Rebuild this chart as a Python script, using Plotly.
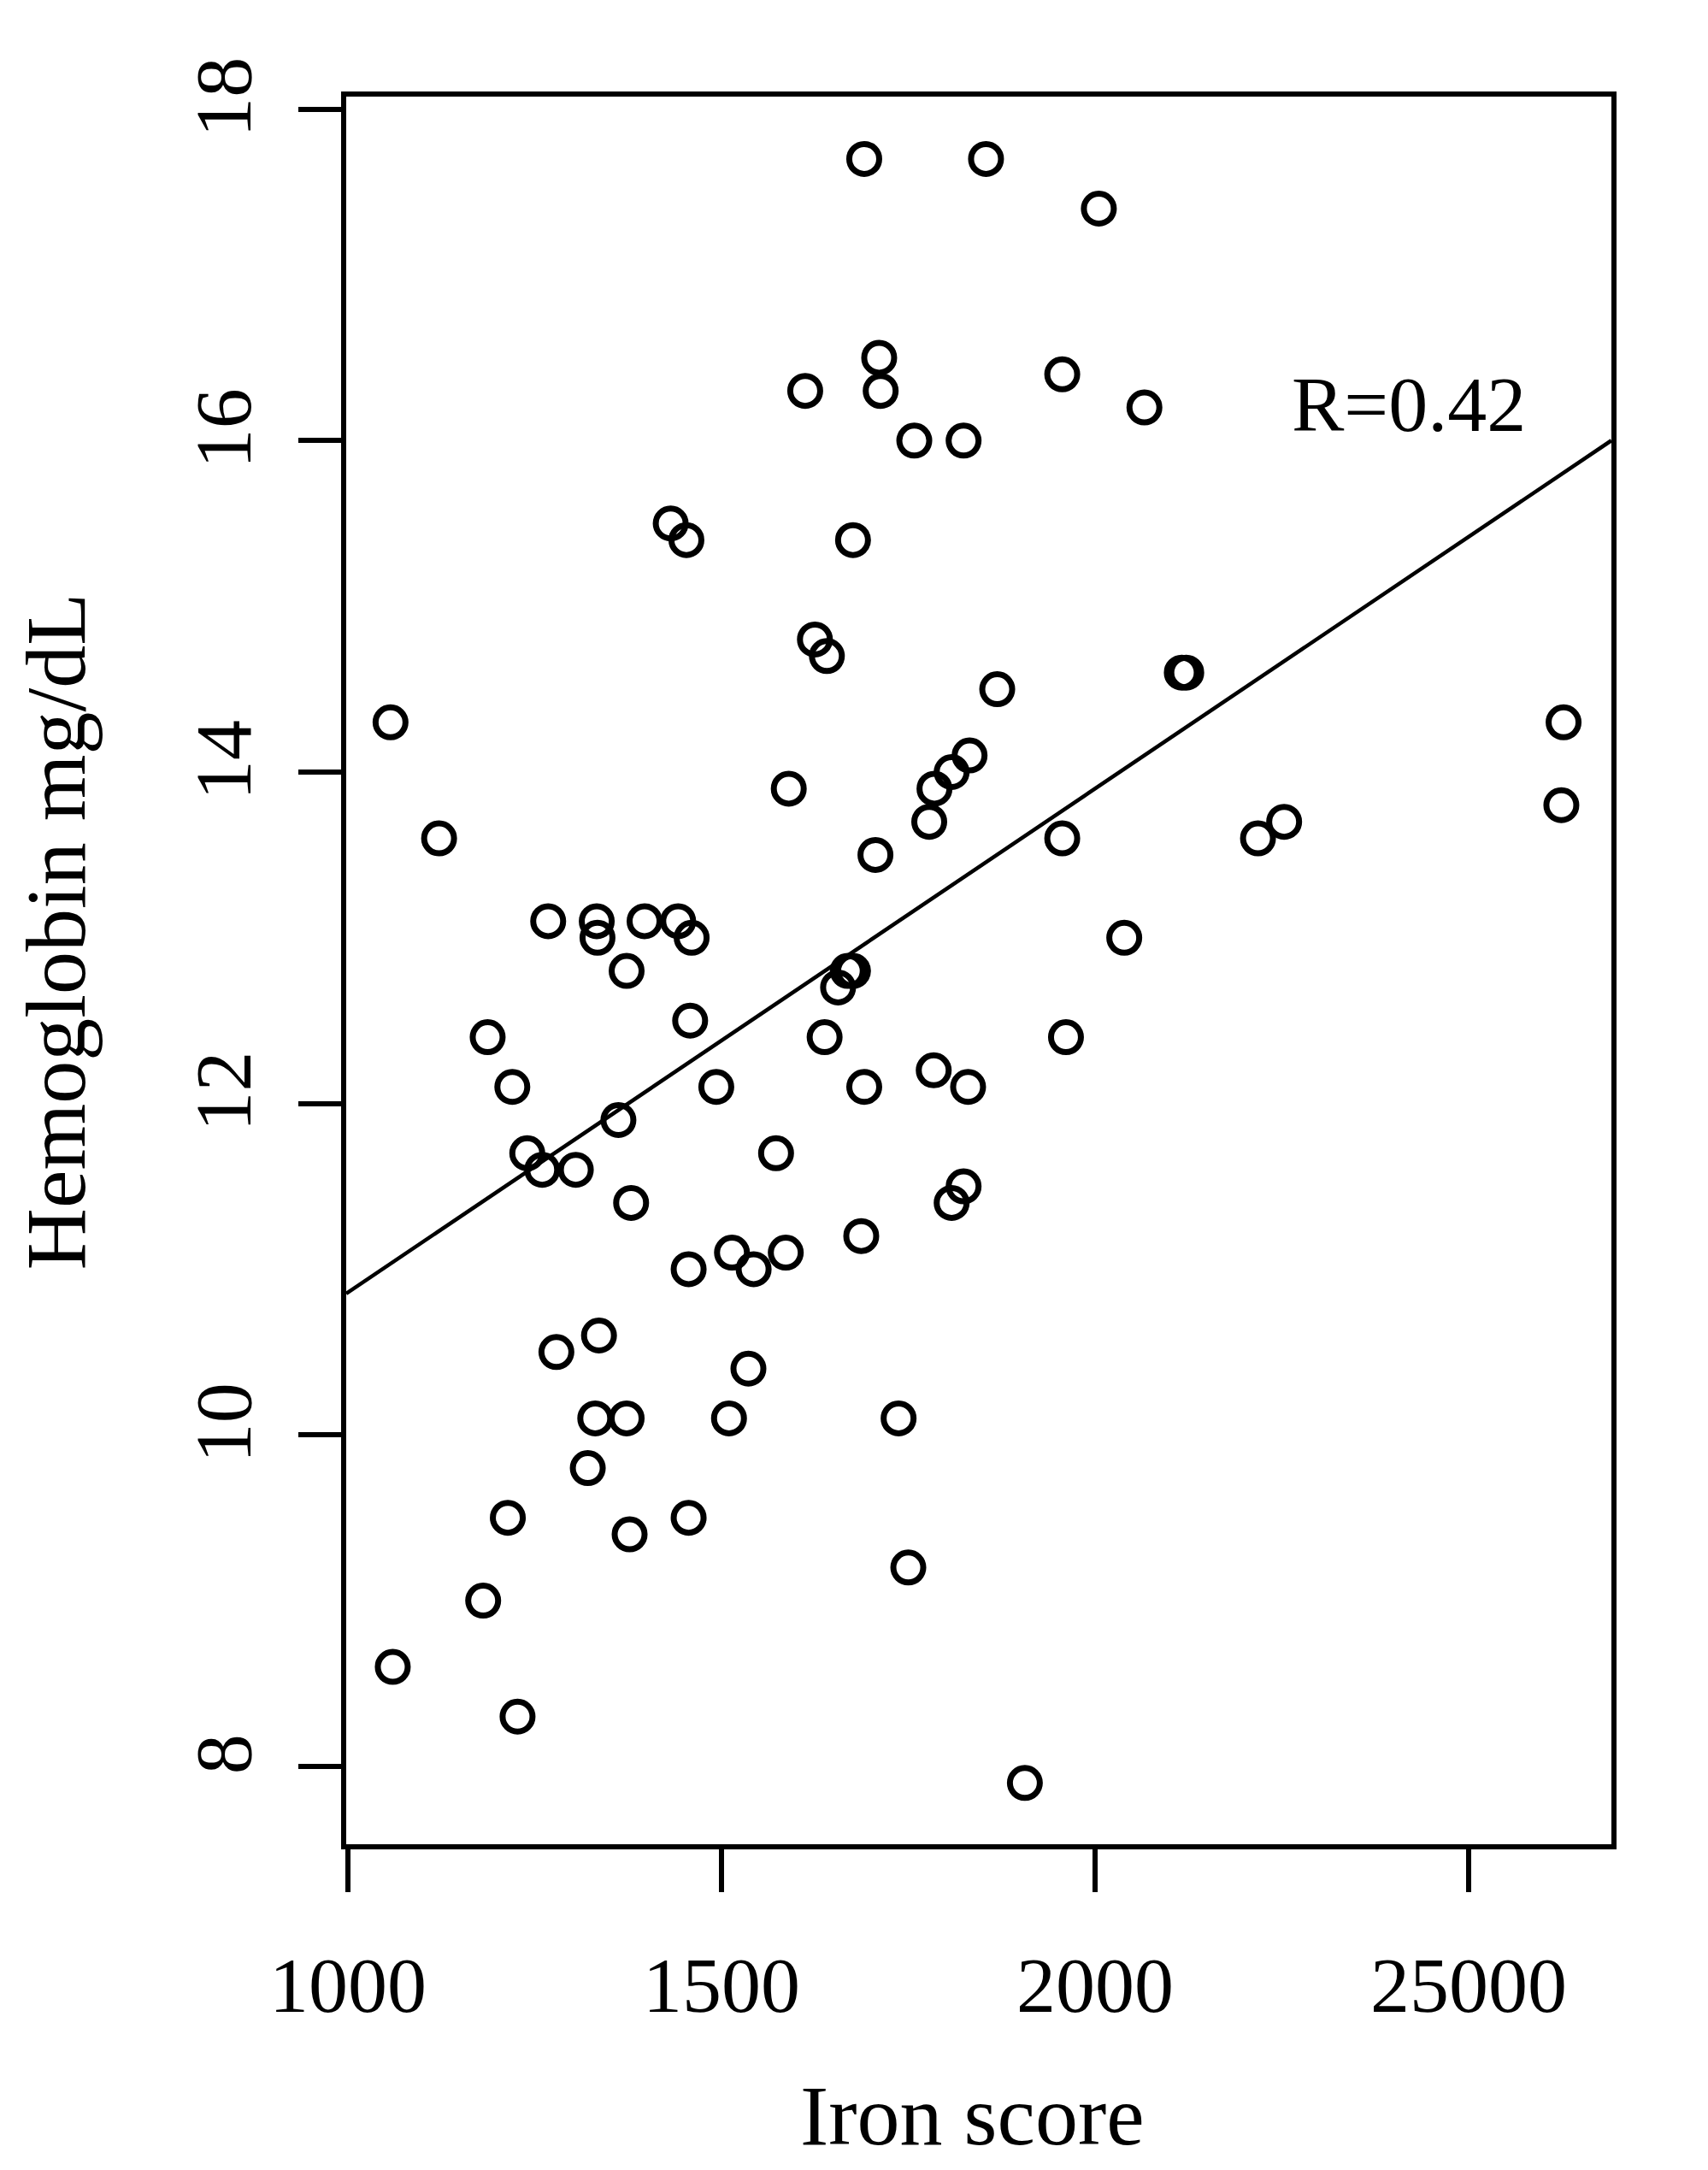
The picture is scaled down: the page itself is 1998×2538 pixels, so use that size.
import plotly.graph_objects as go

# Data
iron_score = [1057, 1122, 1060, 1268, 1333, 1334, 1397, 1442, 1460, 1373,
              1187, 1220, 1240, 1260, 1305, 1362, 1379, 1458, 1493, 1456,
              1514, 1543, 1586, 1573, 1279, 1336, 1331, 1373, 1321, 1214,
              1377, 1456, 1510, 1536, 1181, 1227, 1432, 1453, 1590, 1612,
              1625, 1641, 1638, 1656, 1669, 1676, 1691, 1687, 1706, 1691,
              1711, 1713, 1676, 1758, 1737, 1750, 1778, 1785, 1784, 1808,
              1832, 1824, 1854, 1869, 1830, 1824, 1808, 1906, 1956, 2005,
              1956, 1961, 2066, 2039, 2116, 2122, 2218, 2253, 2627, 2624]
hemoglobin = [14.3, 13.6, 8.6, 13.1, 13.1, 13.0, 13.1, 13.1, 13.0, 12.8,
              12.4, 12.1, 11.7, 11.6, 11.6, 11.9, 11.4, 12.5, 12.1, 11.0,
              11.1, 11.0, 11.1, 11.7, 10.5, 10.6, 10.1, 10.1, 9.8, 9.5,
              9.4, 9.5, 10.1, 10.4, 9.0, 8.3, 15.5, 15.4, 13.9, 16.3,
              14.8, 14.7, 12.4, 12.7, 12.8, 12.8, 12.1, 11.2, 13.5, 17.7,
              16.5, 16.3, 15.4, 16.0, 10.1, 9.2, 13.7, 13.9, 12.2, 14.0,
              14.1, 16.0, 17.7, 14.5, 12.1, 11.5, 11.4, 7.9, 16.4, 17.4,
              13.6, 12.4, 16.2, 13.0, 14.6, 14.6, 13.6, 13.7, 14.3, 13.8]

fit_intercept_at_1000 = 10.86
fit_slope = 0.00304

x_tick_values = [1000, 1500, 2000, 2500]
x_tick_labels = ["1000", "1500", "2000", "25000"]
y_tick_values = [8, 10, 12, 14, 16, 18]
y_tick_labels = ["8", "10", "12", "14", "16", "18"]

r_label = "R=0.42"
x_title = "Iron score"
y_title = "Hemoglobin mg/dL"

x_range = [997.7, 2691.0]
y_range = [7.530, 18.076]

FONT = "Liberation Serif"

fig = go.Figure()

fit_x = x_range
fit_y = [fit_intercept_at_1000 + fit_slope * (v - 1000) for v in fit_x]
fig.add_trace(go.Scatter(x=fit_x, y=fit_y, mode="lines",
                         line=dict(color="black", width=4.5),
                         showlegend=False, hoverinfo="skip"))

fig.add_trace(go.Scatter(x=iron_score, y=hemoglobin, mode="markers",
                         marker=dict(symbol="circle-open", size=35,
                                     color="black", line=dict(width=7, color="black")),
                         showlegend=False))

fig.add_annotation(x=2261, y=16.22, text=r_label, showarrow=False,
                   font=dict(family=FONT, size=92, color="black"),
                   xanchor="left", yanchor="middle")

# Axis titles (placed as in the reference, slightly off-centre)
fig.add_annotation(xref="paper", yref="paper", x=0.4947, y=0, yshift=-317,
                   text=x_title, showarrow=False,
                   font=dict(family=FONT, size=100, color="black"),
                   xanchor="center", yanchor="middle")
fig.add_annotation(xref="paper", yref="paper", x=0, xshift=-340, y=0.5224,
                   text=y_title, showarrow=False, textangle=-90,
                   font=dict(family=FONT, size=100, color="black"),
                   xanchor="center", yanchor="middle")

fig.update_layout(
    width=1998, height=2538,
    margin=dict(l=405, r=113, t=113, b=381),
    paper_bgcolor="white", plot_bgcolor="white",
    font=dict(family=FONT, color="black"),
)

fig.update_xaxes(range=x_range, tickvals=x_tick_values, ticktext=x_tick_labels,
                 showgrid=False, zeroline=False,
                 showline=True, mirror=True, linecolor="black", linewidth=6,
                 ticks="outside", ticklen=50, tickwidth=6, tickcolor="black",
                 tickfont=dict(family=FONT, size=92, color="black"),
                 ticklabelstandoff=30)

fig.update_yaxes(range=y_range, tickvals=y_tick_values, ticktext=y_tick_labels,
                 showgrid=False, zeroline=False,
                 showline=True, mirror=True, linecolor="black", linewidth=6,
                 ticks="outside", ticklen=50, tickwidth=6, tickcolor="black",
                 tickangle=-90,
                 tickfont=dict(family=FONT, size=94, color="black"),
                 ticklabelstandoff=18)

fig.write_html("out.html", config={"displayModeBar": False},
               post_script="document.body.style.margin='0';document.body.style.padding='0';")
